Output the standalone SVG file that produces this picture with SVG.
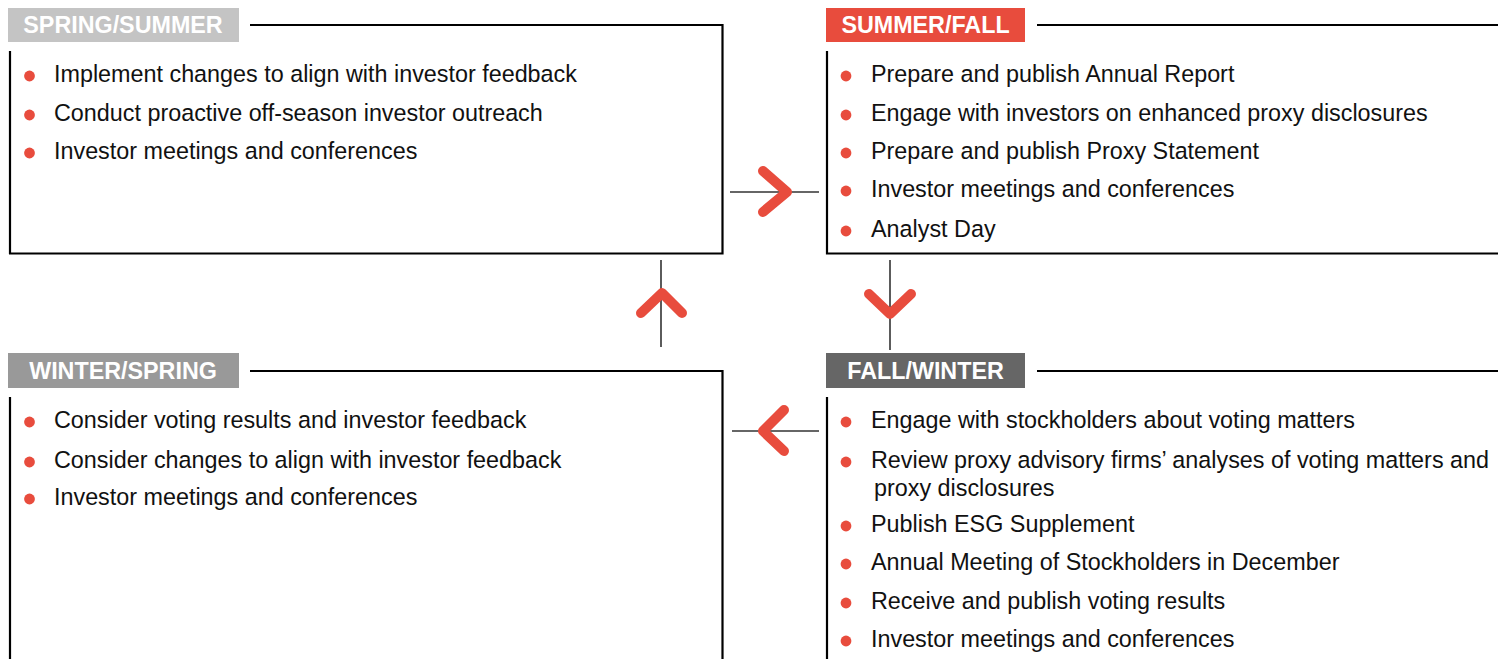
<svg xmlns="http://www.w3.org/2000/svg" width="1498" height="659" viewBox="0 0 1498 659">
<style>
.frame{fill:none;stroke:#000;stroke-width:2.2}
.hdr{font-family:"Liberation Sans",Arial,sans-serif;font-weight:bold;font-size:23.3px;fill:#fff;text-anchor:middle}
.txt{font-family:"Liberation Sans",Arial,sans-serif;font-size:23.35px;fill:#111}
.dot{fill:#e84c3d}
.conn{stroke:#333;stroke-width:1.6;fill:none}
.chev{stroke:#e84c3d;stroke-width:10;fill:none;stroke-linecap:round;stroke-linejoin:round}
</style>
<rect width="1498" height="659" fill="#fff"/>
<g id="spring-summer">
<rect x="8" y="8" width="231" height="34" fill="#c4c4c4"/>
<text class="hdr" x="123" y="33">SPRING/SUMMER</text>
<path class="frame" d="M250 25H722.5V253.5H9M10 51V254"/>
<circle class="dot" cx="29.5" cy="76" r="5.4"/><text class="txt" x="54" y="82">Implement changes to align with investor feedback</text>
<circle class="dot" cx="29.5" cy="115" r="5.4"/><text class="txt" x="54" y="121">Conduct proactive off-season investor outreach</text>
<circle class="dot" cx="29.5" cy="153" r="5.4"/><text class="txt" x="54" y="159">Investor meetings and conferences</text>
</g>
<g id="summer-fall">
<rect x="826" y="8" width="199" height="34" fill="#e84c3d"/>
<text class="hdr" x="925.5" y="33">SUMMER/FALL</text>
<path class="frame" d="M1037 25H1498M827 51V253.5H1498"/>
<circle class="dot" cx="846" cy="76" r="5.4"/><text class="txt" x="871" y="82">Prepare and publish Annual Report</text>
<circle class="dot" cx="846" cy="115" r="5.4"/><text class="txt" x="871" y="121">Engage with investors on enhanced proxy disclosures</text>
<circle class="dot" cx="846" cy="153" r="5.4"/><text class="txt" x="871" y="159">Prepare and publish Proxy Statement</text>
<circle class="dot" cx="846" cy="191" r="5.4"/><text class="txt" x="871" y="197">Investor meetings and conferences</text>
<circle class="dot" cx="846" cy="231" r="5.4"/><text class="txt" x="871" y="237">Analyst Day</text>
</g>
<g id="winter-spring">
<rect x="8" y="353" width="231" height="35" fill="#999"/>
<text class="hdr" x="123" y="379">WINTER/SPRING</text>
<path class="frame" d="M250 371H722.5V659M10 397V659"/>
<circle class="dot" cx="29.5" cy="422" r="5.4"/><text class="txt" x="54" y="428">Consider voting results and investor feedback</text>
<circle class="dot" cx="29.5" cy="462" r="5.4"/><text class="txt" x="54" y="468">Consider changes to align with investor feedback</text>
<circle class="dot" cx="29.5" cy="499" r="5.4"/><text class="txt" x="54" y="505">Investor meetings and conferences</text>
</g>
<g id="fall-winter">
<rect x="826" y="353" width="199" height="35" fill="#666"/>
<text class="hdr" x="925.5" y="379">FALL/WINTER</text>
<path class="frame" d="M1037 371H1498M827 397V659"/>
<circle class="dot" cx="846" cy="422" r="5.4"/><text class="txt" x="871" y="428">Engage with stockholders about voting matters</text>
<circle class="dot" cx="846" cy="462" r="5.4"/><text class="txt" x="871" y="468">Review proxy advisory firms’ analyses of voting matters and</text>
<text class="txt" x="874" y="496">proxy disclosures</text>
<circle class="dot" cx="846" cy="526" r="5.4"/><text class="txt" x="871" y="532">Publish ESG Supplement</text>
<circle class="dot" cx="846" cy="564" r="5.4"/><text class="txt" x="871" y="570">Annual Meeting of Stockholders in December</text>
<circle class="dot" cx="846" cy="603" r="5.4"/><text class="txt" x="871" y="609">Receive and publish voting results</text>
<circle class="dot" cx="846" cy="641" r="5.4"/><text class="txt" x="871" y="647">Investor meetings and conferences</text>
</g>
<g id="connectors">
<path class="conn" d="M730 192H819"/>
<path class="chev" d="M763 171L787 192L763 212"/>
<path class="conn" d="M890 260V350"/>
<path class="chev" d="M869 294L890 314L911 294"/>
<path class="conn" d="M732 431H819"/>
<path class="chev" d="M784 410L763 431L784 451"/>
<path class="conn" d="M661 260V347"/>
<path class="chev" d="M641 313L662 293L682 313"/>
</g>
</svg>
